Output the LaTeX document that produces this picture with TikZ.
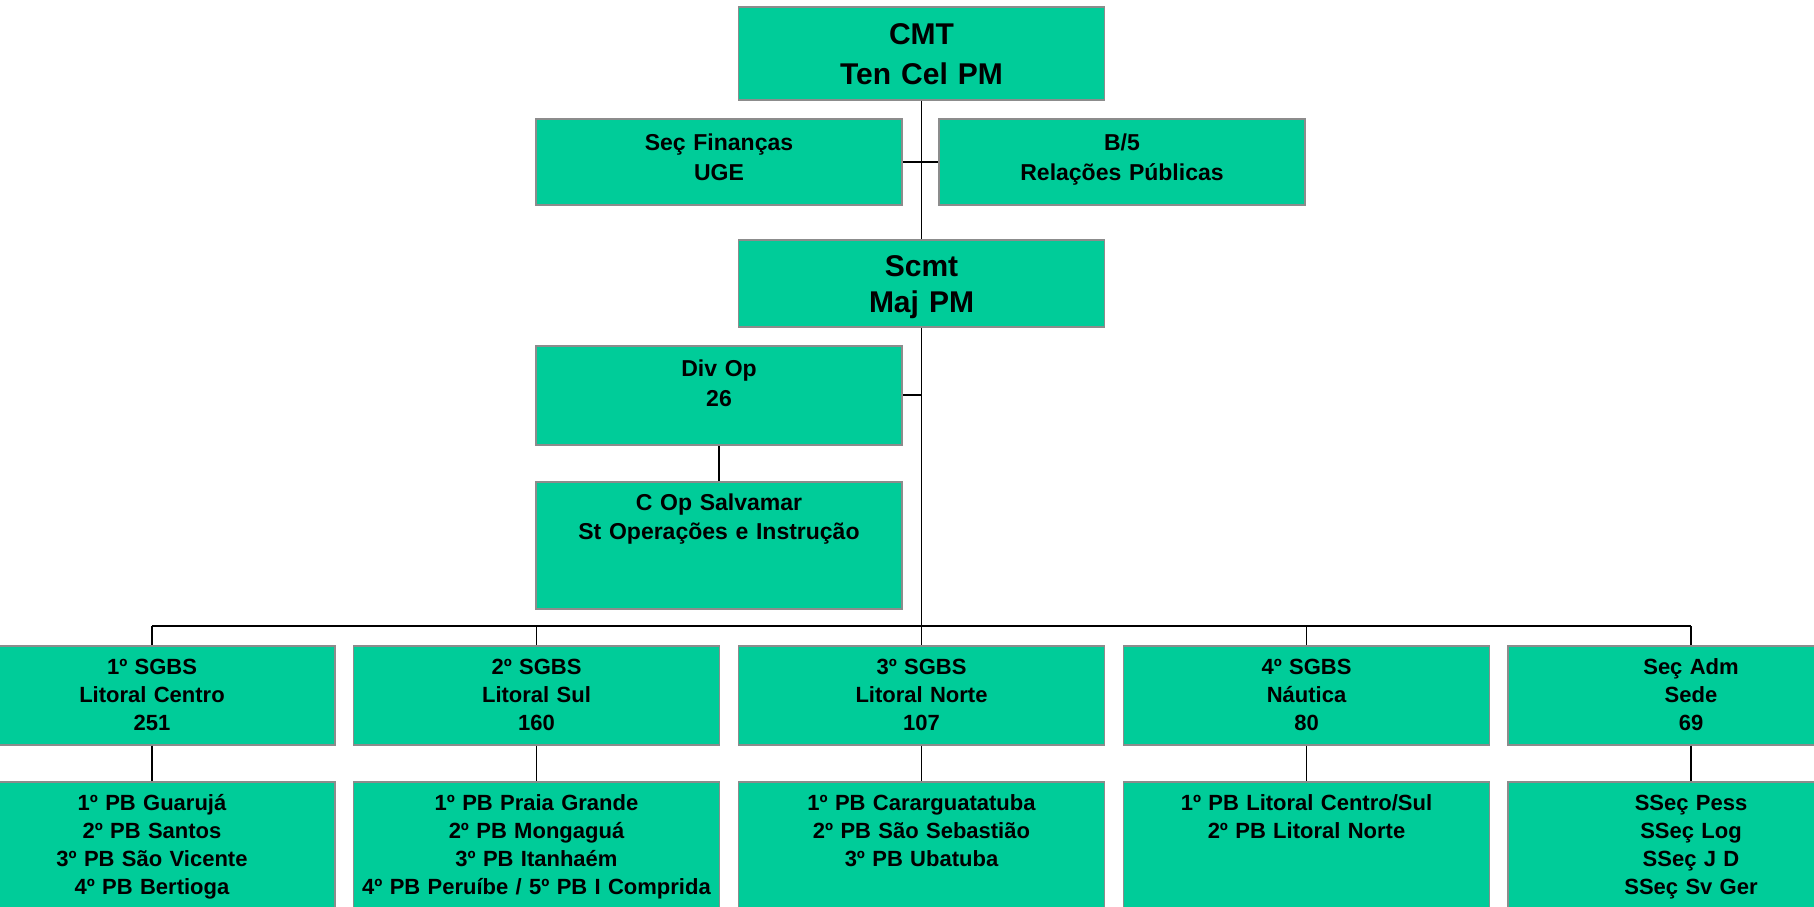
\documentclass[tikz,border=0pt]{standalone}
\usepackage{fontspec}
\setmainfont{Liberation Sans}
\definecolor{boxfill}{HTML}{00CC99}
\definecolor{boxline}{HTML}{8C8C8C}
\begin{document}
\begin{tikzpicture}[x=1pt,y=-1pt,
  box/.style={draw=boxline, line width=1.5pt, fill=boxfill, inner sep=0pt,
    align=center, anchor=north, text width=366pt},
  big/.style={font=\fontsize{30}{40}\selectfont\bfseries},
  mid/.style={font=\fontsize{23}{30}\selectfont\bfseries},
  sml/.style={font=\fontsize{22}{28}\selectfont\bfseries},
  conn/.style={line width=1.8pt, black}]
\clip (0,0) rectangle (1814,906);
\fill[white] (0,0) rectangle (1814,906);

% top
\node[box, big, text height=37.7pt, text depth=55.3pt] (cmt) at (921.5,6) {CMT\\Ten Cel PM};
\node[box, mid, text height=31.5pt, text depth=54.5pt] (fin) at (719,118) {Seç Finanças\\UGE};
\node[box, mid, text height=31.5pt, text depth=54.5pt] (b5) at (1122,118) {B/5\\Relações Públicas};
\node[box, big, font=\fontsize{30}{36}\selectfont\bfseries, text height=37pt, text depth=50pt] (scmt) at (921.5,239) {Scmt\\Maj PM};
\node[box, mid, text height=31pt, text depth=68pt] (divop) at (719,345) {Div Op\\26};
\node[box, mid, font=\fontsize{23}{28.5}\selectfont\bfseries, text height=29pt, text depth=98pt] (cop) at (719,481) {C Op Salvamar\\St Operações e Instrução};

% level 3
\node[box, sml, text height=29pt, text depth=70pt] (sg1) at (152,645) {1º SGBS\\Litoral Centro\\251};
\node[box, sml, text height=29pt, text depth=70pt] (sg2) at (536.5,645) {2º SGBS\\Litoral Sul\\160};
\node[box, sml, text height=29pt, text depth=70pt] (sg3) at (921.5,645) {3º SGBS\\Litoral Norte\\107};
\node[box, sml, text height=29pt, text depth=70pt] (sg4) at (1306.5,645) {4º SGBS\\Náutica\\80};
\node[box, sml, text height=29pt, text depth=70pt] (adm) at (1691,645) {Seç Adm\\Sede\\69};

% level 4
\node[box, sml, text height=29pt, text depth=121pt] (pb1) at (152,781) {1º PB Guarujá\\2º PB Santos\\3º PB São Vicente\\4º PB Bertioga};
\node[box, sml, text height=29pt, text depth=121pt] (pb2) at (536.5,781) {1º PB Praia Grande\\2º PB Mongaguá\\3º PB Itanhaém\\4º PB Peruíbe / 5º PB I Comprida};
\node[box, sml, text height=29pt, text depth=121pt] (pb3) at (921.5,781) {1º PB Cararguatatuba\\2º PB São Sebastião\\3º PB Ubatuba};
\node[box, sml, text height=29pt, text depth=121pt] (pb4) at (1306.5,781) {1º PB Litoral Centro/Sul\\2º PB Litoral Norte};
\node[box, sml, text height=29pt, text depth=121pt] (ss) at (1691,781) {SSeç Pess\\SSeç Log\\SSeç J D\\SSeç Sv Ger};

% connectors
\coordinate (busL) at (152,626);
\coordinate (busR) at (1691,626);
\draw[conn] (cmt.south) -- (scmt.north);
\draw[conn] (fin.east) -- (b5.west);
\draw[conn] (scmt.south) -- (sg3.north);
\draw[conn] (divop.east) -- (divop.east -| scmt.south);
\draw[conn] (divop.south) -- (cop.north);
\draw[conn] (busL) -- (busR);
\foreach \n in {sg1,sg2,sg4,adm}{\draw[conn] (\n.north) -- (\n.north |- busL);}
\draw[conn] (sg1.south) -- (pb1.north);
\draw[conn] (sg2.south) -- (pb2.north);
\draw[conn] (sg3.south) -- (pb3.north);
\draw[conn] (sg4.south) -- (pb4.north);
\draw[conn] (adm.south) -- (ss.north);
\end{tikzpicture}
\end{document}
